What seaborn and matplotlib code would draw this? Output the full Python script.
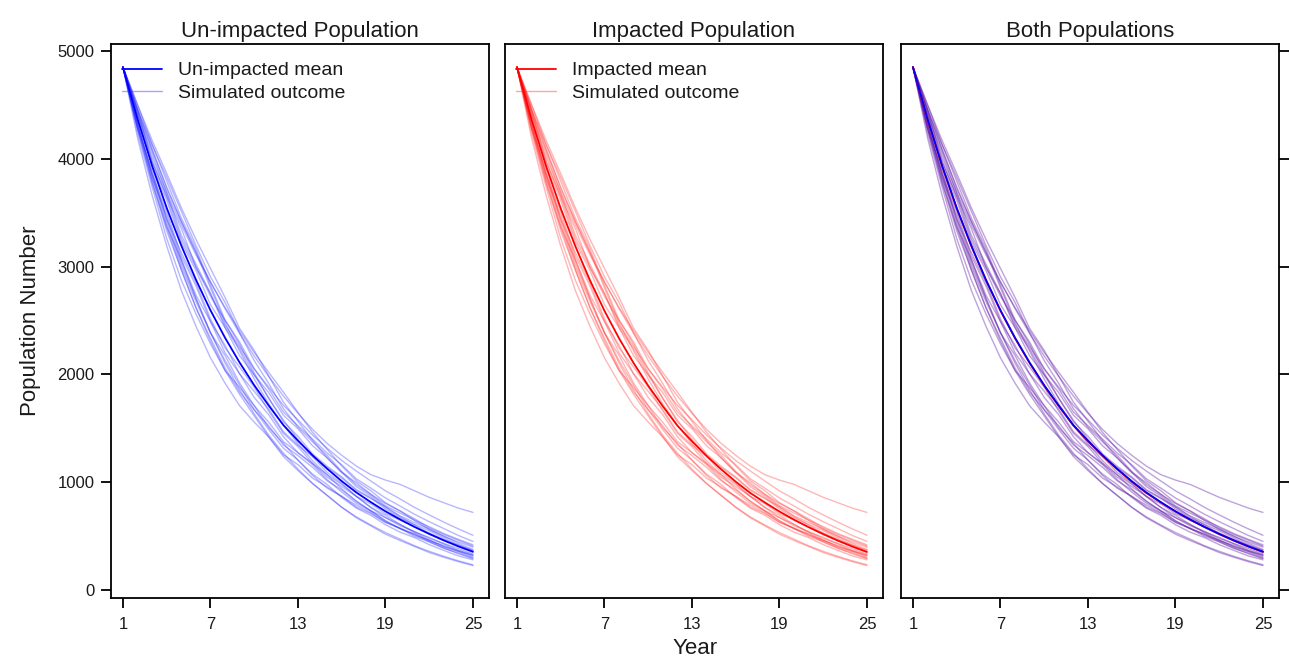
import matplotlib
matplotlib.use("Agg")
import matplotlib.pyplot as plt
from matplotlib.lines import Line2D
import seaborn as sns
import pandas as pd

years = list(range(1, 26))

mean_unimpacted = [4850, 4370, 3935, 3545, 3195, 2880, 2595, 2340, 2110, 1900, 1710, 1530,
                   1385, 1250, 1125, 1010, 905, 815, 730, 655, 585, 520, 460, 405, 355]
mean_impacted = [4850, 4365, 3930, 3540, 3190, 2875, 2590, 2335, 2105, 1895, 1705, 1525,
                 1380, 1245, 1120, 1005, 900, 812, 728, 652, 583, 518, 458, 403, 353]

sim01 = [4850, 4450, 4080, 3740, 3420, 3130, 2860, 2610, 2380, 2170, 1980, 1800, 1640, 1490, 1360, 1250, 1150, 1070, 1020, 980, 920, 860, 810, 760, 720]
sim02 = [4850, 4283, 3778, 3332, 2971, 2621, 2310, 2036, 1815, 1615, 1419, 1239, 1108, 988, 878, 768, 679, 603, 533, 472, 410, 359, 313, 271, 234]
sim03 = [4850, 4501, 4132, 3829, 3515, 3197, 2906, 2668, 2384, 2128, 1915, 1683, 1510, 1375, 1249, 1101, 977, 888, 803, 734, 661, 577, 515, 462, 408]
sim04 = [4850, 4326, 3817, 3474, 3067, 2736, 2491, 2200, 2005, 1843, 1676, 1469, 1343, 1238, 1136, 1040, 923, 848, 774, 688, 626, 567, 497, 446, 398]
sim05 = [4850, 4457, 4092, 3722, 3419, 3139, 2803, 2480, 2216, 1957, 1727, 1530, 1357, 1200, 1069, 939, 824, 734, 642, 570, 515, 447, 391, 336, 291]
sim06 = [4850, 4283, 3896, 3439, 3131, 2851, 2517, 2246, 2068, 1881, 1659, 1454, 1330, 1175, 1069, 980, 869, 766, 694, 609, 538, 489, 428, 369, 327]
sim07 = [4850, 4239, 3738, 3261, 2876, 2563, 2284, 2036, 1878, 1710, 1556, 1377, 1274, 1175, 1046, 960, 869, 799, 708, 648, 585, 530, 465, 417, 362]
sim08 = [4850, 4414, 4053, 3687, 3291, 3024, 2751, 2457, 2258, 2052, 1864, 1652, 1524, 1400, 1271, 1162, 1032, 945, 854, 779, 702, 634, 570, 506, 451]
sim09 = [4850, 4326, 3856, 3403, 3003, 2678, 2387, 2176, 1920, 1710, 1505, 1362, 1205, 1075, 979, 859, 760, 693, 606, 537, 486, 421, 368, 316, 280]
sim10 = [4850, 4501, 4171, 3864, 3546, 3254, 2984, 2714, 2427, 2223, 1984, 1744, 1565, 1388, 1226, 1091, 959, 872, 767, 681, 603, 525, 469, 405, 351]
sim11 = [4850, 4414, 3935, 3616, 3227, 2966, 2647, 2434, 2173, 1995, 1778, 1561, 1427, 1263, 1148, 1050, 932, 856, 752, 668, 608, 551, 483, 417, 369]
sim12 = [4850, 4283, 3817, 3368, 3067, 2707, 2387, 2129, 1899, 1672, 1488, 1316, 1205, 1063, 945, 869, 787, 717, 628, 570, 521, 458, 414, 360, 323]
sim13 = [4850, 4370, 3974, 3651, 3259, 2995, 2725, 2504, 2300, 2052, 1881, 1714, 1579, 1438, 1316, 1202, 1104, 1011, 920, 845, 766, 697, 630, 567, 508]
sim14 = [4850, 4195, 3660, 3191, 2780, 2448, 2154, 1919, 1709, 1558, 1419, 1255, 1163, 1038, 956, 869, 769, 709, 628, 576, 509, 463, 405, 365, 316]
sim15 = [4850, 4457, 4132, 3793, 3451, 3168, 2829, 2504, 2279, 2014, 1778, 1576, 1399, 1238, 1091, 990, 869, 766, 672, 609, 532, 463, 400, 356, 305]
sim16 = [4850, 4326, 3856, 3510, 3099, 2822, 2491, 2270, 2005, 1786, 1625, 1423, 1274, 1163, 1024, 909, 805, 734, 642, 570, 497, 447, 386, 344, 295]
sim17 = [4850, 4414, 4014, 3687, 3387, 3110, 2855, 2621, 2405, 2204, 2018, 1836, 1648, 1463, 1305, 1151, 1014, 921, 810, 734, 644, 562, 501, 433, 376]
sim18 = [4850, 4326, 3856, 3439, 3035, 2707, 2387, 2106, 1857, 1634, 1436, 1270, 1122, 988, 878, 768, 670, 595, 518, 459, 404, 348, 304, 263, 227]
sim19 = [4850, 4457, 3974, 3651, 3355, 2995, 2751, 2434, 2237, 1995, 1830, 1622, 1496, 1338, 1226, 1091, 996, 888, 781, 714, 649, 588, 524, 470, 419]
sim20 = [4850, 4283, 3778, 3368, 2971, 2621, 2336, 2059, 1836, 1672, 1522, 1346, 1247, 1138, 1013, 929, 824, 734, 672, 596, 544, 478, 432, 385, 334]

sims = [sim01, sim02, sim03, sim04, sim05, sim06, sim07, sim08, sim09, sim10,
        sim11, sim12, sim13, sim14, sim15, sim16, sim17, sim18, sim19, sim20]

x_ticks = [1, 7, 13, 19, 25]
y_ticks = [0, 1000, 2000, 3000, 4000, 5000]
titles = ["Un-impacted Population", "Impacted Population", "Both Populations"]
legend_labels = [["Un-impacted mean", "Simulated outcome"],
                 ["Impacted mean", "Simulated outcome"]]

rows = []
for k, s in enumerate(sims):
    for yr, v in zip(years, s):
        rows.append({"sim": k, "year": yr, "pop": v})
sim_df = pd.DataFrame(rows)
mean_u_df = pd.DataFrame({"year": years, "pop": mean_unimpacted})
mean_i_df = pd.DataFrame({"year": years, "pop": mean_impacted})

sns.set_style("ticks")
plt.rcParams["font.family"] = ["Liberation Sans", "DejaVu Sans"]

fig = plt.figure(figsize=(12.9, 6.6), dpi=100)
lefts = [111 / 1290, 505 / 1290, 901 / 1290]
w = 378 / 1290
b = 1 - 598 / 660
h = 554 / 660
axes = [fig.add_axes([l, b, w, h]) for l in lefts]

blue = "#0000FF"
red = "#FF0000"
purple = "#5E18A8"
sim_colors = ["#2020FF", "#FF2020", purple]
sim_alpha = [0.32, 0.32, 0.40]
text_col = "#1a1a1a"

for i, ax in enumerate(axes):
    sns.lineplot(data=sim_df, x="year", y="pop", units="sim", estimator=None,
                 color=sim_colors[i], alpha=sim_alpha[i], lw=1.0, ax=ax, legend=False)
    if i == 0:
        sns.lineplot(data=mean_u_df, x="year", y="pop", color=blue, lw=1.3, ax=ax)
    elif i == 1:
        sns.lineplot(data=mean_i_df, x="year", y="pop", color=red, lw=1.3, ax=ax)
    else:
        sns.lineplot(data=mean_i_df, x="year", y="pop", color=red, lw=1.3, ax=ax)
        sns.lineplot(data=mean_u_df, x="year", y="pop", color=blue, lw=1.3, ax=ax)

    ax.set_xlim(0.18, 26.1)
    ax.set_ylim(-74, 5065)
    ax.set_xticks(x_ticks)
    ax.set_xticklabels([str(t) for t in x_ticks], fontsize=12, color=text_col)
    ax.set_xlabel("")
    ax.set_ylabel("")
    ax.set_title(titles[i], fontsize=16, pad=5, color=text_col)
    for sp in ax.spines.values():
        sp.set_visible(True)
        sp.set_color("black")
        sp.set_linewidth(1.3)
    ax.tick_params(axis="x", direction="out", length=7, width=1.3, pad=7, color="black")
    if i == 0:
        ax.set_yticks(y_ticks)
        ax.set_yticklabels([str(t) for t in y_ticks], fontsize=12, color=text_col)
        ax.tick_params(axis="y", direction="out", length=7, width=1.3, pad=5, color="black")
        ax.set_ylabel("Population Number", fontsize=16, labelpad=12, color=text_col)
    elif i == 1:
        ax.set_yticks([])
    else:
        ax.set_yticks(y_ticks)
        ax.yaxis.tick_right()
        ax.tick_params(axis="y", direction="out", length=7, width=1.3, labelright=False,
                       labelleft=False, color="black")

    if i < 2:
        mc = blue if i == 0 else red
        handles = [Line2D([0], [0], color=mc, lw=1.3),
                   Line2D([0], [0], color=sim_colors[i], lw=1.0, alpha=0.4)]
        leg = ax.legend(handles, legend_labels[i], loc="upper left", frameon=False,
                        fontsize=14, handlelength=2.05, handletextpad=0.82,
                        bbox_to_anchor=(0.008, 0.982), borderaxespad=0.0,
                        labelspacing=0.25)
        for t in leg.get_texts():
            t.set_color(text_col)

fig.text((505 + 885) / 2 / 1290, 1 - 648 / 660, "Year", ha="center", va="center",
         fontsize=16, color=text_col)

fig.savefig("out.png", dpi=100)
